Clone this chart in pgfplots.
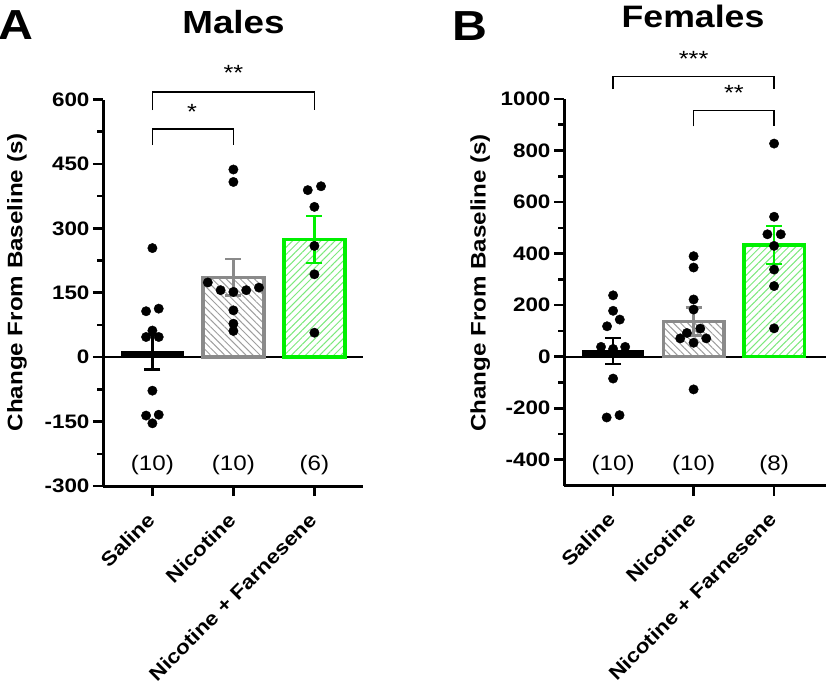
\documentclass[border=0pt]{standalone}
\usepackage{fontspec}
\setmainfont{Liberation Sans}[FakeStretch=1.15]
\usepackage{pgfplots}
\pgfplotsset{compat=1.18}
\usetikzlibrary{patterns.meta}

\definecolor{barGray}{HTML}{8A8A8A}
\definecolor{hatchGray}{HTML}{9E9E9E}
\definecolor{barGreen}{HTML}{00F000}
\definecolor{hatchGreen}{HTML}{7DE87D}

\newcommand{\fs}[1]{\fontsize{#1}{#1}\selectfont}

\pgfplotsset{
  panel/.style={
    scale only axis,
    clip=false,
    axis x line*=bottom,
    axis y line*=left,
    axis line style={line width=3pt},
    tick align=outside,
    major tick length=10pt,
    minor tick length=6pt,
    every tick/.style={black, line width=2.6pt},
    xtick={0,1,2},
    xticklabels={Saline, Nicotine, Nicotine + Farnesene},
    xticklabel style={font=\bfseries\fs{19.6}, xshift=1pt, yshift=-18pt, rotate=45, anchor=east},
    yticklabel style={font=\bfseries\fs{19.5}},
    /pgf/number format/assume math mode=true,
    /pgf/number format/1000 sep={},
    ylabel={Change From Baseline (s)},
    ylabel style={font=\bfseries\fs{21}, rotate=0},
  },
  errstyle/.style={mark=none, line width=2.6pt, color=#1,
    error bars/.cd, y dir=both, y explicit,
    error bar style={line width=2.6pt, color=#1},
    error mark options={rotate=90, mark size=8pt, line width=2.6pt, color=#1}},
  dots/.style={only marks, mark=*, mark size=4.7pt, black, mark options={fill=black, draw=black}},
}

\begin{document}
\begin{tikzpicture}
\path[use as bounding box] (0pt,0pt) rectangle (826pt,-689pt);

% panel letters and titles
\node[anchor=base, font=\bfseries\fs{42}] at (16pt,-39pt) {A};
\node[anchor=base, font=\bfseries\fs{42}] at (470pt,-40pt) {B};
\node[anchor=base, font=\bfseries\fs{32}] at (233.5pt,-33pt) {Males};
\node[anchor=base, font=\bfseries\fs{31}] at (693pt,-27pt) {Females};

% ---------------- Males ----------------
\begin{axis}[panel,
  at={(103pt,-486pt)}, anchor=south west,
  width=260pt, height=386.5pt,
  xmin=-0.61, xmax=2.6,
  ymin=-300, ymax=600,
  ytick={-300,-150,0,150,300,450,600},
  minor ytick={-225,-75,75,225,375,525},
  ylabel style={at={(axis description cs:-0.331,0.527)}, anchor=center},
]
\draw[line width=2pt] (axis cs:-0.61,0) -- (axis cs:2.6,0);
% bars
\addplot[ybar, bar width=0.75, bar shift=0pt, fill=black, draw=black, line width=2pt] coordinates {(0,12)};
\addplot[ybar, bar width=0.75, bar shift=0pt, draw=barGray, line width=3.5pt,
  pattern={Lines[angle=-45, distance=5pt, line width=1pt]}, pattern color=hatchGray] coordinates {(1,186)};
\addplot[ybar, bar width=0.75, bar shift=0pt, draw=barGreen, line width=3.5pt,
  pattern={Lines[angle=45, distance=5pt, line width=1pt]}, pattern color=hatchGreen] coordinates {(2,274)};
% error bars (mean +- SEM)
\addplot[errstyle=black] coordinates {(0,12) +- (0,41)};
\addplot[errstyle=barGray] coordinates {(1,186) +- (0,43)};
\addplot[errstyle=barGreen] coordinates {(2,274) +- (0,55)};
% individual points
\addplot[dots] coordinates {
 (0,254) (-0.078,107) (0.078,113) (0,62) (-0.078,47) (0.078,47)
 (0,-78) (-0.078,-136) (0.078,-134) (0,-154)
};
\addplot[dots] coordinates {
 (1,437) (1,408) (0.684,174) (0.842,156) (1,152) (1.158,156) (1.316,162)
 (1,109) (1,78) (1,61)
};
\addplot[dots] coordinates {
 (1.918,389) (2.082,398) (2,350) (2,259) (2,193) (2,57)
};
% sample sizes
\node[font=\fs{21}] at (axis cs:0,-252) {(10)};
\node[font=\fs{21}] at (axis cs:1,-252) {(10)};
\node[font=\fs{21}] at (axis cs:2,-252) {(6)};
% significance brackets
\draw[line width=1.5pt] (axis cs:0,494) -- (axis cs:0,531) -- (axis cs:1,531) -- (axis cs:1,494);
\node[font=\fs{22}] at (axis cs:0.49,571) {*};
\draw[line width=1.5pt] (axis cs:0,575) -- (axis cs:0,617) -- (axis cs:2,617) -- (axis cs:2,575);
\node[font=\fs{22}] at (axis cs:1,662) {**};
\end{axis}

% ---------------- Females ----------------
\begin{axis}[panel,
  at={(564pt,-485.5pt)}, anchor=south west,
  width=262pt, height=386.5pt,
  xmin=-0.61, xmax=2.645,
  ymin=-500, ymax=1000,
  ytick={-400,-200,0,200,400,600,800,1000},
  minor ytick={-300,-100,100,300,500,700,900},
  ylabel style={at={(axis description cs:-0.32,0.524)}, anchor=center},
]
\draw[line width=2pt] (axis cs:-0.61,0) -- (axis cs:2.645,0);
\addplot[ybar, bar width=0.75, bar shift=0pt, fill=black, draw=black, line width=2pt] coordinates {(0,22)};
\addplot[ybar, bar width=0.75, bar shift=0pt, draw=barGray, line width=3.5pt,
  pattern={Lines[angle=-45, distance=5pt, line width=1pt]}, pattern color=hatchGray] coordinates {(1,137)};
\addplot[ybar, bar width=0.75, bar shift=0pt, draw=barGreen, line width=3.5pt,
  pattern={Lines[angle=45, distance=5pt, line width=1pt]}, pattern color=hatchGreen] coordinates {(2,433)};
\addplot[errstyle=black] coordinates {(0,22) +- (0,51)};
\addplot[errstyle=barGray] coordinates {(1,137) +- (0,54)};
\addplot[errstyle=barGreen] coordinates {(2,433) +- (0,74)};
\addplot[dots] coordinates {
 (0,238) (0,178) (0.083,144) (-0.075,118) (-0.15,38) (0,30) (0.15,38)
 (0,-85) (-0.08,-236) (0.08,-227)
};
\addplot[dots] coordinates {
 (1,390) (1,346) (1,222) (1,183) (1.083,109) (0.917,92) (0.834,71) (1.157,71)
 (1,54) (1,-127)
};
\addplot[dots] coordinates {
 (2,827) (2,543) (1.917,475) (2.083,475) (2,430) (2,338) (2,274) (2,110)
};
\node[font=\fs{21}] at (axis cs:0,-421) {(10)};
\node[font=\fs{21}] at (axis cs:1,-421) {(10)};
\node[font=\fs{21}] at (axis cs:2,-421) {(8)};
\draw[line width=1.5pt] (axis cs:0,1038) -- (axis cs:0,1088) -- (axis cs:2,1088) -- (axis cs:2,1038);
\node[font=\fs{22}] at (axis cs:1,1154) {***};
\draw[line width=1.5pt] (axis cs:1,894) -- (axis cs:1,956) -- (axis cs:2,956) -- (axis cs:2,894);
\node[font=\fs{22}] at (axis cs:1.5,1022) {**};
\end{axis}
\end{tikzpicture}
\end{document}
